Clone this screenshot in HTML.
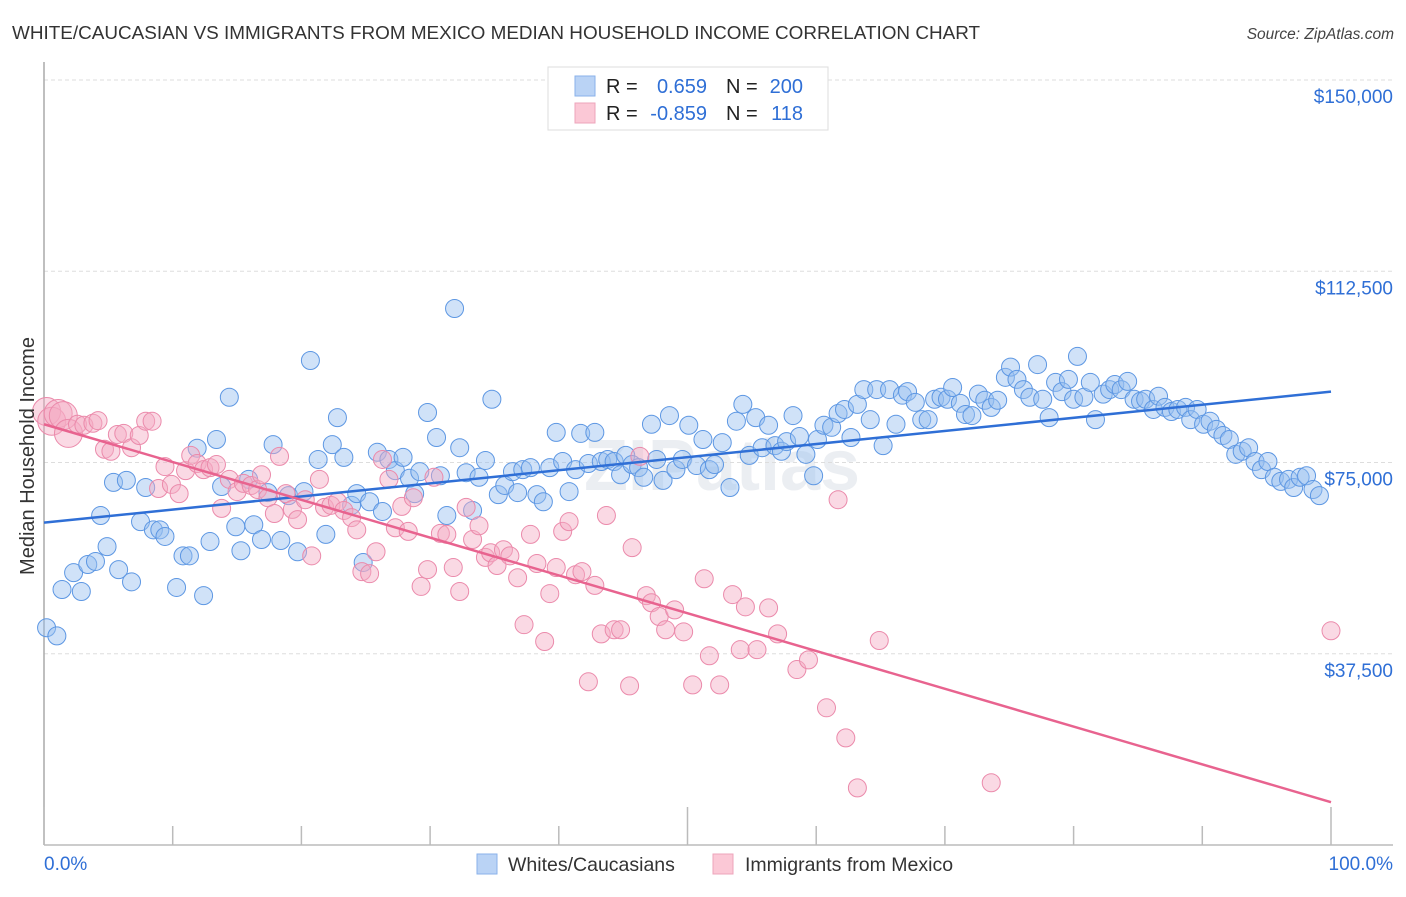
<!DOCTYPE html>
<html><head><meta charset="utf-8"><style>
body{margin:0;background:#fff;font-family:"Liberation Sans",sans-serif;}
svg text{font-family:"Liberation Sans",sans-serif;}
</style></head><body>
<svg id="chart" width="1406" height="892" xmlns="http://www.w3.org/2000/svg">
<text x="12" y="39" font-size="18.9" fill="#333">WHITE/CAUCASIAN VS IMMIGRANTS FROM MEXICO MEDIAN HOUSEHOLD INCOME CORRELATION CHART</text>
<text x="1394" y="39" font-size="15.5" fill="#444" font-style="italic" text-anchor="end">Source: ZipAtlas.com</text>
<text x="722" y="490" font-size="72" font-weight="bold" fill="#dfe3ea" text-anchor="middle" opacity="0.6">ZIPatlas</text>
<g id="grid"></g>
<g id="axes"></g>
<g id="blue"></g>
<g id="pink"></g>
<g id="trends"></g>
<text transform="translate(34,456) rotate(-90)" font-size="20" fill="#333" text-anchor="middle">Median Household Income</text>
<g>
<rect x="548" y="67" width="280" height="63" fill="#fff" stroke="#ddd"/>
<rect x="575" y="76" width="20" height="20" fill="#bad3f5" stroke="#8ab2ea"/>
<rect x="575" y="103" width="20" height="20" fill="#fbc8d6" stroke="#eea4bb"/>
<text x="606" y="93" font-size="20" fill="#222">R =</text><text x="707" y="93" font-size="20" fill="#2f6fd6" text-anchor="end">0.659</text>
<text x="726" y="93" font-size="20" fill="#222">N =</text><text x="803" y="93" font-size="20" fill="#2f6fd6" text-anchor="end">200</text>
<text x="606" y="120" font-size="20" fill="#222">R =</text><text x="707" y="120" font-size="20" fill="#2f6fd6" text-anchor="end">-0.859</text>
<text x="726" y="120" font-size="20" fill="#222">N =</text><text x="803" y="120" font-size="20" fill="#2f6fd6" text-anchor="end">118</text>
</g>
<g>
<rect x="477" y="854" width="20" height="20" fill="#bad3f5" stroke="#8ab2ea"/>
<text x="508" y="871" font-size="19.5" fill="#333">Whites/Caucasians</text>
<rect x="713" y="854" width="20" height="20" fill="#fbc8d6" stroke="#eea4bb"/>
<text x="745" y="871" font-size="19.5" fill="#333">Immigrants from Mexico</text>
</g>
</svg>
<script>
const yTicks=[37500,75000,112500,150000];
const yTickLabels=["$37,500","$75,000","$112,500","$150,000"];
const xTicks=[0,10,20,30,40,50,60,70,80,90,100];
const xEndLabels=["0.0%","100.0%"];
const blueX=[0.2,1.0,1.4,2.3,2.9,3.4,4.0,4.4,4.9,5.4,5.8,6.4,6.8,7.5,7.9,8.5,9.0,9.4,10.3,10.8,11.3,11.9,12.4,12.9,13.4,13.8,14.4,14.9,15.3,15.9,16.3,16.9,17.4,17.8,18.4,19.0,19.7,20.2,20.7,21.3,21.9,22.4,22.8,23.3,23.9,24.3,24.8,25.3,25.9,26.3,26.8,27.3,27.9,28.4,28.8,29.2,29.8,30.5,30.8,31.3,31.9,32.3,32.8,33.3,33.8,34.3,34.8,35.3,35.8,36.4,36.8,37.2,37.8,38.3,38.8,39.3,39.8,40.3,40.8,41.3,41.7,42.3,42.8,43.3,43.8,44.3,44.8,45.2,45.7,46.2,46.6,47.2,47.6,48.1,48.6,49.1,49.6,50.1,50.7,51.2,51.7,52.1,52.7,53.3,53.8,54.3,54.8,55.3,55.8,56.3,56.8,57.3,57.7,58.2,58.7,59.2,59.8,60.1,60.6,61.2,61.7,62.2,62.7,63.2,63.7,64.2,64.7,65.2,65.7,66.2,66.7,67.1,67.7,68.2,68.7,69.2,69.7,70.2,70.6,71.2,71.6,72.1,72.6,73.1,73.6,74.1,74.7,75.1,75.6,76.1,76.6,77.2,77.6,78.1,78.6,79.1,79.6,80.0,80.3,80.8,81.3,81.7,82.3,82.8,83.2,83.7,84.2,84.7,85.2,85.6,86.2,86.6,87.1,87.6,88.1,88.7,89.1,89.6,90.1,90.6,91.1,91.6,92.1,92.6,93.1,93.6,94.1,94.6,95.1,95.6,96.1,96.7,97.1,97.6,98.1,98.6,99.1];
const blueY=[42.6,41.0,50.1,53.4,49.7,55.0,55.6,64.6,58.5,71.1,54.0,71.5,51.6,63.4,70.1,61.8,61.8,60.5,50.5,56.7,56.7,77.8,48.9,59.5,79.5,70.3,87.8,62.4,57.7,71.7,62.8,59.9,69.1,78.5,59.7,68.5,57.5,69.3,95.0,75.6,60.9,78.5,83.8,76.0,66.6,68.9,55.4,67.3,77.0,65.4,75.6,73.4,76.0,71.9,68.9,73.2,84.8,79.9,72.4,64.6,105.2,77.9,73.0,65.6,72.1,75.4,87.4,68.7,70.5,73.2,69.1,73.6,74.0,68.7,67.3,74.0,80.9,75.2,69.3,73.6,80.7,74.8,80.9,75.2,75.6,75.2,72.6,76.4,74.6,74.0,72.1,82.5,75.6,71.5,84.2,73.6,75.6,82.3,74.4,79.5,73.6,74.6,78.9,70.1,83.1,86.4,76.4,83.8,77.9,82.3,78.3,77.2,79.1,84.2,80.1,76.6,72.4,79.5,82.3,81.9,84.6,85.4,79.9,86.4,89.3,83.4,89.3,78.3,89.3,82.5,88.2,88.9,86.8,83.4,83.4,87.4,87.8,87.4,89.7,86.6,84.4,84.2,88.4,87.2,85.8,87.2,91.7,93.7,91.3,89.3,87.8,94.2,87.4,83.8,90.7,88.9,91.3,87.4,95.8,87.8,90.7,83.4,88.4,89.3,90.3,89.3,90.9,87.4,87.0,87.4,85.4,88.0,85.8,85.0,85.4,85.8,83.4,85.4,82.5,83.1,81.5,80.3,79.5,76.6,77.2,77.9,75.2,73.6,75.2,72.1,71.3,71.7,70.1,72.1,72.4,69.7,68.5];
const pinkX=[0.2,0.6,1.1,1.5,1.9,2.6,3.1,3.8,4.2,4.7,5.2,5.7,6.2,6.8,7.4,7.9,8.4,8.9,9.4,9.9,10.5,11.0,11.4,11.9,12.4,12.9,13.4,13.8,14.4,15.0,15.5,16.1,16.6,16.9,17.4,17.9,18.3,18.8,19.3,19.7,20.3,20.8,21.4,21.8,22.3,22.8,23.3,23.9,24.3,24.7,25.3,25.8,26.3,26.8,27.3,27.8,28.3,28.7,29.3,29.8,30.3,30.8,31.3,31.8,32.3,32.8,33.3,33.8,34.3,34.7,35.2,35.7,36.2,36.8,37.3,37.8,38.3,38.9,39.3,39.8,40.3,40.8,41.3,41.8,42.3,42.8,43.3,43.7,44.3,44.8,45.5,45.7,46.3,46.8,47.2,47.8,48.3,49.0,49.7,50.4,51.3,51.7,52.5,53.5,54.1,54.5,55.4,56.3,57.0,58.5,59.4,60.8,62.3,63.2,64.9,61.7,73.6,100.0];
const pinkY=[85.0,83.1,84.6,84.2,80.7,82.5,82.3,82.7,83.2,77.6,77.2,80.5,80.7,77.9,80.3,83.1,83.1,69.9,74.2,70.7,68.9,73.4,76.4,74.8,73.6,74.0,74.6,66.0,71.7,69.3,70.9,70.5,69.7,72.6,68.1,65.0,76.2,68.9,65.8,63.8,67.7,56.7,71.7,66.2,66.6,67.3,65.6,64.2,61.8,53.6,53.2,57.5,75.6,71.7,62.2,66.4,61.5,68.1,50.7,54.0,72.1,61.1,60.9,54.4,49.7,66.2,59.9,62.6,56.4,57.3,54.8,57.9,56.7,52.4,43.2,60.9,55.2,39.9,49.3,54.4,61.5,63.4,53.0,53.6,32.0,50.9,41.4,64.6,42.2,42.2,31.2,58.3,76.2,48.9,47.5,44.8,42.2,46.1,41.8,31.4,52.2,37.1,31.4,49.1,38.3,46.7,38.3,46.5,41.4,34.4,36.3,26.9,21.0,11.2,40.1,67.7,12.2,42.0];
const pinkBig=[1,1,1,1,1];
const blueTrend=[63.2,88.9];
const pinkTrend=[82.5,8.4];

const NS="http://www.w3.org/2000/svg";
const X0=44,X1=1331,YB=845;
function xs(p){return X0+(X1-X0)*p/100;}
function ys(v){return YB-(YB-80)*v/150000;}
function mk(tag,attrs,parent){const e=document.createElementNS(NS,tag);for(const k in attrs)e.setAttribute(k,attrs[k]);parent.appendChild(e);return e;}
const grid=document.getElementById('grid'),axes=document.getElementById('axes');
yTicks.forEach((t,i)=>{
  const g=mk('line',{x1:X0,x2:1393,y1:ys(t),y2:ys(t),stroke:'#ddd','stroke-dasharray':'4,3'},grid);
  
  
  const tx=mk('text',{x:1393,y:ys(t)+23,'font-size':19,fill:'#2f6fd6','text-anchor':'end'},axes);
  tx.textContent=yTickLabels[i];
  
  
});
const al=mk('line',{x1:X0,x2:X0,y1:62,y2:YB,stroke:'#aaa','stroke-width':1.5},axes);


const bl=mk('line',{x1:X0,x2:1393,y1:YB,y2:YB,stroke:'#bbb','stroke-width':1.5},axes);


xTicks.forEach(t=>{
  const tk=mk('line',{x1:xs(t),x2:xs(t),y1:(t%50===0?807:826),y2:YB,stroke:'#bbb','stroke-width':1.5},axes);
  
  
});
const l0=mk('text',{x:44,y:870,'font-size':19,fill:'#2f6fd6'},axes);l0.textContent=xEndLabels[0];


const l1=mk('text',{x:1393,y:870,'font-size':19,fill:'#2f6fd6','text-anchor':'end'},axes);l1.textContent=xEndLabels[1];


const bg=document.getElementById('blue');
blueX.forEach((x,i)=>{
  const c=mk('circle',{cx:xs(x),cy:ys(blueY[i]*1000),r:9,fill:'rgba(150,190,240,0.45)',stroke:'#5d97e3','stroke-width':1},bg);
  
  
});
const pg=document.getElementById('pink');
pinkX.forEach((x,i)=>{
  const c=mk('circle',{cx:xs(x),cy:ys(pinkY[i]*1000),r:pinkBig[i]?14:9,fill:'rgba(245,170,195,0.45)',stroke:'#eb8aab','stroke-width':1},pg);
  
  
});
const tg=document.getElementById('trends');
const bt=mk('line',{x1:xs(0),y1:ys(blueTrend[0]*1000),x2:xs(100),y2:ys(blueTrend[1]*1000),stroke:'#2f6fd6','stroke-width':2.5},tg);


const pt=mk('line',{x1:xs(0),y1:ys(pinkTrend[0]*1000),x2:xs(100),y2:ys(pinkTrend[1]*1000),stroke:'#e8638f','stroke-width':2.5},tg);


</script>
</body></html>
